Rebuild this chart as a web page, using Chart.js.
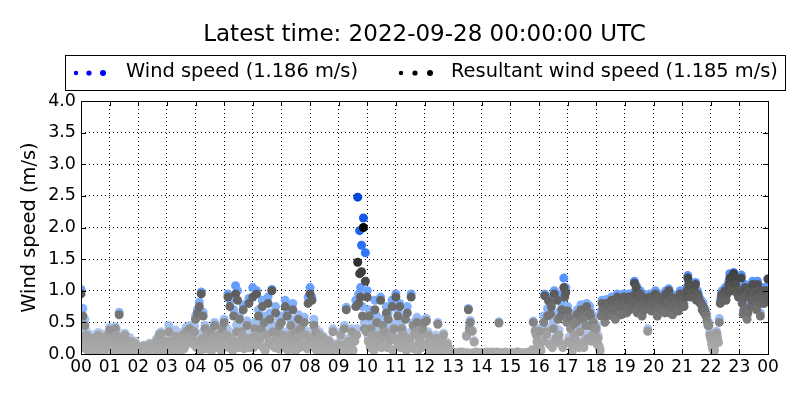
<!DOCTYPE html>
<html>
<head>
<meta charset="utf-8">
<script src="https://cdn.jsdelivr.net/npm/chart.js@4/dist/chart.umd.min.js"></script>
<style>
  html, body { margin: 0; padding: 0; background: #fff; }
  canvas { display: block; }
</style>
</head>
<body>
<canvas id="c" width="800" height="400"></canvas>
<script>
const titleText = 'Latest time: 2022-09-28 00:00:00 UTC';
const stepMinutes = 4; // main samples every 4 minutes, 00:00 -> 24:00
const offsetMinutes = 2; // in-between samples, 2 minutes after each main one

// resultant wind speed (m/s), one row per hour
const resultant = [
  0.95,0.6,0.45,0.3,0.2,0.08,0.25,0.15,0.05,0.3,0.1,0.2,0.02,0.28,0.12,      // 00
  0.38,0.25,0.1,0.4,0.15,0.62,0.05,0.2,0.3,0.08,0.12,0.02,0.18,0.06,0.1,     // 01
  0.05,0.1,0.02,0.12,0.0,0.08,0.15,0.03,0.05,0.1,0.22,0.3,0.32,0.08,0.2,     // 02
  0.1,0.35,0.2,0.05,0.15,0.02,0.1,0.25,0.3,0.08,0.35,0.2,0.4,0.3,0.15,       // 03
  0.55,0.65,0.75,0.95,0.6,0.4,0.3,0.2,0.35,0.25,0.45,0.15,0.3,0.2,0.4,       // 04
  0.5,0.3,0.9,0.75,0.2,0.6,0.95,0.85,0.55,0.35,0.7,0.15,0.45,0.8,0.25,       // 05
  0.9,0.4,0.95,0.6,0.25,0.75,0.5,0.3,0.8,0.55,1.0,0.2,0.65,0.35,0.45,        // 06
  0.5,0.3,0.75,0.6,0.2,0.45,0.7,0.35,0.25,0.55,0.4,0.15,0.5,0.3,0.8,         // 07
  0.95,0.85,0.45,0.35,0.2,0.3,0.1,0.25,0.15,0.05,0.2,0.1,0.35,0.02,0.1,      // 08
  0.15,0.3,0.05,0.4,0.7,0.2,0.1,0.35,0.25,0.75,1.45,1.27,1.3,2.0,1.15,       // 09
  0.9,0.6,0.4,0.3,0.7,0.5,0.2,0.85,0.45,0.35,0.65,0.55,0.25,0.75,0.4,        // 10
  0.9,0.6,0.75,0.4,0.3,0.55,0.65,0.2,0.9,0.45,0.35,0.5,0.15,0.3,0.4,         // 11
  0.5,0.52,0.3,0.2,0.15,0.1,0.25,0.47,0.05,0.2,0.3,0.1,0.15,0.05,0.02,       // 12
  0.02,0.0,0.01,0.0,0.0,0.02,0.0,0.28,0.7,0.5,0.36,0.19,0.02,0.0,0.01,       // 13
  0.0,0.01,0.0,0.02,0.0,0.01,0.0,0.0,0.02,0.49,0.01,0.0,0.0,0.01,0.0,        // 14
  0.0,0.0,0.01,0.0,0.02,0.0,0.0,0.01,0.0,0.0,0.0,0.01,0.5,0.36,0.19,         // 15
  0.36,0.05,0.2,0.92,0.31,0.84,0.63,0.1,0.95,0.25,0.55,0.17,0.7,1.05,0.97,   // 16
  0.68,0.57,0.15,0.47,0.24,0.63,0.1,0.7,0.55,0.2,0.75,0.45,0.6,0.3,0.41,     // 17
  0.4,0.25,0.05,0.8,0.7,0.6,0.75,0.65,0.85,0.7,0.55,0.9,0.78,0.62,0.85,      // 18
  0.8,0.65,0.9,0.75,0.85,1.12,1.05,0.7,0.95,0.6,0.8,0.72,0.36,0.9,0.68,      // 19
  0.75,0.95,0.6,0.85,0.7,0.9,0.65,0.8,1.0,0.72,0.62,0.88,0.78,0.68,0.95,     // 20
  0.85,0.75,0.95,1.2,1.0,1.07,0.9,1.1,0.95,0.85,0.8,0.75,0.68,0.52,0.45,     // 21
  0.24,0.08,0.05,0.33,0.18,0.8,0.95,0.9,0.85,1.0,1.2,1.0,1.27,1.1,0.95,      // 22
  0.9,1.2,0.63,1.05,0.55,0.95,0.75,1.1,0.85,0.7,1.0,0.6,0.9,0.8,1.0,         // 23
  1.185                                                                     // 24
];

// resultant wind speed (m/s), in-between samples
const resultantMid = [
  0.2,0.1,0.3,0.05,0.15,0.22,0.02,0.12,0.18,0.08,0.25,0.05,0.15,0.1,0.2,     // 00
  0.15,0.05,0.22,0.3,0.1,0.02,0.15,0.25,0.05,0.12,0.2,0.08,0.03,0.15,0.05,   // 01
  0.02,0.06,0.1,0.03,0.08,0.01,0.05,0.12,0.02,0.18,0.08,0.15,0.05,0.12,0.03, // 02
  0.05,0.2,0.1,0.02,0.28,0.08,0.15,0.05,0.2,0.12,0.25,0.3,0.18,0.22,0.35,    // 03
  0.1,0.2,0.05,0.25,0.15,0.08,0.2,0.3,0.05,0.15,0.1,0.25,0.12,0.05,0.2,      // 04
  0.15,0.3,0.1,0.25,0.05,0.2,0.35,0.1,0.2,0.3,0.08,0.25,0.15,0.1,0.2,        // 05
  0.1,0.3,0.15,0.25,0.4,0.1,0.05,0.3,0.2,0.15,0.35,0.1,0.25,0.08,0.2,        // 06
  0.1,0.2,0.15,0.05,0.3,0.12,0.2,0.05,0.25,0.1,0.15,0.3,0.12,0.08,0.2,       // 07
  0.25,0.15,0.1,0.05,0.12,0.02,0.08,0.15,0.05,0.1,0.02,0.06,0.12,0.04,0.08,  // 08
  0.02,0.1,0.05,0.15,0.08,0.02,0.12,0.05,0.2,0.3,0.8,0.9,0.6,0.4,0.35,       // 09
  0.2,0.1,0.3,0.05,0.2,0.15,0.3,0.1,0.25,0.35,0.1,0.2,0.3,0.05,0.25,         // 10
  0.2,0.15,0.1,0.3,0.2,0.05,0.15,0.25,0.1,0.08,0.3,0.05,0.2,0.1,0.15,        // 11
  0.15,0.1,0.05,0.2,0.12,0.02,0.08,0.1,0.05,0.02,0.08,0.04,0.01,0.05,0.0,    // 12
  0.0,0.01,0.0,0.02,0.01,0.0,0.0,0.01,0.4,0.0,0.01,0.0,0.0,0.01,0.0,         // 13
  0.01,0.0,0.0,0.01,0.0,0.02,0.0,0.01,0.0,0.0,0.01,0.0,0.02,0.0,0.0,         // 14
  0.01,0.0,0.0,0.02,0.0,0.01,0.0,0.0,0.01,0.02,0.0,0.05,0.0,0.3,0.1,         // 15
  0.1,0.2,0.5,0.35,0.6,0.15,0.75,0.4,0.2,0.85,0.3,0.6,0.1,0.9,0.5,           // 16
  0.2,0.4,0.05,0.3,0.5,0.15,0.35,0.6,0.1,0.45,0.25,0.65,0.2,0.5,0.3,         // 17
  0.15,0.1,0.6,0.7,0.5,0.8,0.65,0.75,0.6,0.85,0.7,0.8,0.65,0.75,0.9,         // 18
  0.75,0.85,0.7,0.9,0.8,0.95,0.65,0.85,0.75,0.9,0.7,0.8,0.85,0.75,0.8,       // 19
  0.8,0.7,0.9,0.75,0.85,0.7,0.95,0.8,0.65,0.9,0.75,0.85,0.7,0.9,0.8,         // 20
  0.8,0.9,1.0,1.1,0.9,0.95,1.0,0.85,0.9,0.8,0.7,0.65,0.6,0.45,0.3,           // 21
  0.15,0.05,0.2,0.25,0.5,0.9,0.85,1.0,0.95,1.1,1.05,1.15,1.2,1.0,0.9,        // 22
  1.0,0.8,0.7,0.9,0.65,1.0,0.85,0.95,0.75,1.1,0.9,0.8,1.0,0.85,0.9           // 23
];

// wind speed (m/s), same timestamps as resultant
const windSpeed = [
  1.02,0.72,0.55,0.35,0.24,0.1,0.3,0.18,0.07,0.34,0.12,0.23,0.04,0.31,0.15,
  0.42,0.28,0.12,0.43,0.18,0.66,0.07,0.23,0.33,0.1,0.14,0.04,0.2,0.08,0.12,
  0.07,0.12,0.04,0.14,0.02,0.1,0.17,0.05,0.07,0.12,0.25,0.33,0.35,0.1,0.23,
  0.13,0.45,0.24,0.08,0.18,0.04,0.13,0.3,0.34,0.1,0.42,0.25,0.45,0.38,0.2,
  0.6,0.7,0.82,0.98,0.66,0.45,0.36,0.25,0.4,0.3,0.5,0.2,0.35,0.26,0.45,
  0.55,0.35,0.95,0.85,0.25,0.7,1.08,1.0,0.6,0.42,0.78,0.2,0.52,0.88,0.3,
  1.05,0.5,1.0,0.7,0.3,0.85,0.6,0.35,0.9,0.65,1.02,0.25,0.75,0.42,0.55,
  0.6,0.35,0.85,0.7,0.25,0.55,0.8,0.42,0.3,0.62,0.48,0.2,0.58,0.36,0.9,
  1.05,0.9,0.55,0.4,0.25,0.35,0.12,0.28,0.18,0.07,0.22,0.12,0.4,0.04,0.12,
  0.18,0.35,0.07,0.45,0.74,0.25,0.12,0.4,0.3,0.85,2.48,1.95,1.72,2.15,1.6,
  1.0,0.7,0.5,0.35,0.85,0.6,0.25,0.9,0.55,0.42,0.75,0.65,0.3,0.85,0.48,
  0.95,0.7,0.8,0.5,0.35,0.62,0.75,0.25,0.95,0.5,0.42,0.58,0.2,0.35,0.48,
  0.55,0.56,0.35,0.24,0.18,0.12,0.3,0.5,0.07,0.23,0.33,0.12,0.18,0.07,0.04,
  0.03,0.01,0.02,0.01,0.01,0.03,0.01,0.3,0.72,0.53,0.38,0.21,0.03,0.01,0.02,
  0.01,0.02,0.01,0.03,0.01,0.02,0.01,0.01,0.03,0.51,0.02,0.01,0.01,0.02,0.01,
  0.01,0.01,0.02,0.01,0.03,0.01,0.01,0.02,0.01,0.01,0.01,0.02,0.52,0.38,0.21,
  0.4,0.07,0.24,0.95,0.36,0.9,0.7,0.12,1.0,0.4,0.65,0.2,0.8,1.2,1.05,
  0.75,0.65,0.18,0.55,0.3,0.7,0.12,0.78,0.62,0.25,0.8,0.52,0.68,0.36,0.48,
  0.45,0.3,0.07,0.85,0.75,0.66,0.8,0.7,0.9,0.76,0.6,0.95,0.82,0.68,0.9,
  0.85,0.7,0.95,0.8,0.9,1.15,1.08,0.75,1.0,0.66,0.85,0.76,0.4,0.95,0.72,
  0.8,1.0,0.65,0.9,0.75,0.95,0.7,0.85,1.03,0.76,0.66,0.92,0.82,0.72,1.0,
  0.9,0.8,1.0,1.24,1.05,1.1,0.95,1.13,1.0,0.9,0.85,0.8,0.72,0.58,0.5,
  0.28,0.1,0.07,0.36,0.2,0.85,1.0,0.95,0.9,1.05,1.27,1.05,1.29,1.15,1.0,
  0.95,1.25,0.68,1.1,0.6,1.0,0.8,1.15,0.9,0.75,1.05,0.65,0.95,0.85,1.05,
  1.186
];

// wind speed (m/s), in-between samples
const windSpeedMid = [
  0.26,0.14,0.38,0.08,0.2,0.3,0.04,0.16,0.24,0.1,0.32,0.07,0.2,0.14,0.26,
  0.2,0.07,0.3,0.4,0.14,0.04,0.2,0.32,0.07,0.16,0.26,0.1,0.05,0.2,0.07,
  0.04,0.08,0.13,0.05,0.1,0.03,0.07,0.15,0.04,0.24,0.1,0.2,0.07,0.16,0.05,
  0.07,0.28,0.14,0.04,0.38,0.1,0.2,0.07,0.28,0.16,0.34,0.42,0.25,0.3,0.44,
  0.13,0.26,0.07,0.34,0.2,0.1,0.26,0.4,0.07,0.2,0.13,0.34,0.16,0.07,0.26,
  0.2,0.4,0.13,0.34,0.07,0.26,0.46,0.13,0.26,0.4,0.1,0.34,0.2,0.13,0.26,
  0.13,0.4,0.2,0.34,0.52,0.13,0.07,0.4,0.26,0.2,0.46,0.13,0.34,0.1,0.26,
  0.13,0.26,0.2,0.07,0.4,0.16,0.26,0.07,0.34,0.13,0.2,0.4,0.16,0.1,0.26,
  0.34,0.2,0.13,0.07,0.16,0.03,0.1,0.2,0.07,0.13,0.03,0.08,0.16,0.05,0.1,
  0.03,0.13,0.07,0.2,0.1,0.03,0.16,0.07,0.26,0.4,0.95,1.05,0.75,0.5,0.45,
  0.26,0.13,0.4,0.07,0.26,0.2,0.4,0.13,0.34,0.46,0.13,0.26,0.4,0.07,0.34,
  0.26,0.2,0.13,0.4,0.26,0.07,0.2,0.34,0.13,0.1,0.4,0.07,0.26,0.13,0.2,
  0.2,0.13,0.07,0.26,0.16,0.03,0.1,0.13,0.07,0.03,0.1,0.05,0.02,0.07,0.01,
  0.01,0.02,0.01,0.03,0.02,0.01,0.01,0.02,0.45,0.01,0.02,0.01,0.01,0.02,0.01,
  0.02,0.01,0.01,0.02,0.01,0.03,0.01,0.02,0.01,0.01,0.02,0.01,0.03,0.01,0.01,
  0.02,0.01,0.01,0.03,0.01,0.02,0.01,0.01,0.02,0.03,0.01,0.07,0.01,0.36,0.13,
  0.13,0.26,0.6,0.42,0.72,0.2,0.88,0.5,0.26,0.95,0.38,0.7,0.13,1.0,0.6,
  0.26,0.5,0.07,0.38,0.6,0.2,0.42,0.7,0.13,0.55,0.32,0.76,0.26,0.6,0.38,
  0.2,0.13,0.68,0.76,0.56,0.86,0.7,0.8,0.66,0.9,0.75,0.85,0.7,0.8,0.95,
  0.8,0.9,0.75,0.95,0.85,1.0,0.7,0.9,0.8,0.95,0.75,0.85,0.9,0.8,0.85,
  0.85,0.75,0.95,0.8,0.9,0.75,1.0,0.85,0.7,0.95,0.8,0.9,0.75,0.95,0.85,
  0.85,0.95,1.05,1.15,0.95,1.0,1.05,0.9,0.95,0.85,0.75,0.7,0.65,0.5,0.35,
  0.2,0.07,0.25,0.3,0.56,0.95,0.9,1.05,1.0,1.15,1.1,1.2,1.24,1.05,0.95,
  1.05,0.85,0.75,0.95,0.7,1.05,0.9,1.0,0.8,1.15,0.95,0.85,1.05,0.9,0.95
];

const hourTicks = [0,1,2,3,4,5,6,7,8,9,10,11,12,13,14,15,16,17,18,19,20,21,22,23,24];
const speedTicks = [0,0.5,1,1.5,2,2.5,3,3.5,4];

const FONT = "'DejaVu Sans', sans-serif";

// merge main and in-between samples into time order
function toPoints(main, mid) {
  const pts = [];
  main.forEach((v, i) => {
    pts.push({ x: i * stepMinutes / 60, y: v });
    if (i < mid.length) pts.push({ x: (i * stepMinutes + offsetMinutes) / 60, y: mid[i] });
  });
  return pts;
}

function lerpStops(stops, v) {
  if (v <= stops[0][0]) return stops[0][1];
  for (let i = 1; i < stops.length; i++) {
    if (v <= stops[i][0]) {
      const a = stops[i - 1], b = stops[i];
      const t = (v - a[0]) / (b[0] - a[0]);
      return a[1].map((c, k) => Math.round(c + (b[1][k] - c) * t));
    }
  }
  return stops[stops.length - 1][1];
}

// darker the stronger the wind
const grayStops = [[0, [172,172,172]], [0.3, [160,160,160]], [0.6, [118,118,118]], [1.0, [88,88,88]], [2.0, [0,0,0]]];
const blueStops = [[0, [172,172,172]], [0.3, [180,200,235]], [0.8, [125,175,255]], [1.5, [55,125,255]], [2.5, [0,70,215]]];

function colorFor(stops) {
  return (ctx) => {
    const v = ctx.raw ? ctx.raw.y : 0;
    const c = lerpStops(stops, v);
    return 'rgb(' + c.join(',') + ')';
  };
}

const pad2 = (n) => String(n % 24).padStart(2, '0');

const frame = {
  id: 'frame',
  afterDraw(chart) {
    const { ctx, chartArea: a, scales } = chart;
    ctx.save();

    // title
    ctx.fillStyle = '#000';
    ctx.font = '23px ' + FONT;
    ctx.textAlign = 'center';
    ctx.textBaseline = 'middle';
    ctx.fillText(titleText, (a.left + a.right) / 2, 35);

    // legend box
    ctx.lineWidth = 1;
    ctx.strokeStyle = '#000';
    ctx.strokeRect(65.5, 55.5, 720, 35);
    const lastW = windSpeed[windSpeed.length - 1].toFixed(3);
    const lastR = resultant[resultant.length - 1].toFixed(3);
    const items = [
      { dots: [76, 89, 103], color: '#0000ff', text: 'Wind speed (' + lastW + ' m/s)', tx: 126 },
      { dots: [401, 415, 430], color: '#000000', text: 'Resultant wind speed (' + lastR + ' m/s)', tx: 451 }
    ];
    ctx.font = '19.4px ' + FONT;
    ctx.textAlign = 'left';
    items.forEach(it => {
      ctx.fillStyle = it.color;
      const radii = [2.2, 2.6, 3.0];
      it.dots.forEach((x, k) => {
        ctx.beginPath();
        ctx.arc(x, 73, radii[k], 0, Math.PI * 2);
        ctx.fill();
      });
      ctx.fillStyle = '#000';
      ctx.fillText(it.text, it.tx, 72);
    });

    // y axis label
    ctx.save();
    ctx.translate(30, (a.top + a.bottom) / 2);
    ctx.rotate(-Math.PI / 2);
    ctx.textAlign = 'center';
    ctx.textBaseline = 'middle';
    ctx.font = '19.4px ' + FONT;
    ctx.fillText('Wind speed (m/s)', 0, 0);
    ctx.restore();

    // inward ticks on all four sides
    ctx.beginPath();
    hourTicks.forEach(h => {
      const x = Math.round(scales.x.getPixelForValue(h)) + 0.5;
      ctx.moveTo(x, a.bottom); ctx.lineTo(x, a.bottom - 5);
      ctx.moveTo(x, a.top); ctx.lineTo(x, a.top + 5);
    });
    speedTicks.forEach(s => {
      const y = Math.round(scales.y.getPixelForValue(s)) + 0.5;
      ctx.moveTo(a.left, y); ctx.lineTo(a.left + 5, y);
      ctx.moveTo(a.right, y); ctx.lineTo(a.right - 5, y);
    });
    ctx.stroke();

    // axes frame
    ctx.strokeRect(Math.round(a.left) + 0.5, Math.round(a.top) + 0.5,
      Math.round(a.right - a.left), Math.round(a.bottom - a.top));
    ctx.restore();
  }
};

new Chart(document.getElementById('c'), {
  type: 'scatter',
  data: {
    datasets: [
      {
        label: 'Wind speed',
        data: toPoints(windSpeed, windSpeedMid),
        backgroundColor: colorFor(blueStops),
        pointRadius: 4.5,
        pointBorderWidth: 0,
        borderWidth: 0,
        order: 2
      },
      {
        label: 'Resultant wind speed',
        data: toPoints(resultant, resultantMid),
        backgroundColor: colorFor(grayStops),
        pointRadius: 4.5,
        pointBorderWidth: 0,
        borderWidth: 0,
        order: 1
      }
    ]
  },
  options: {
    responsive: false,
    animation: false,
    layout: { padding: { top: 101, right: 32, left: 0, bottom: 0 } },
    plugins: {
      legend: { display: false },
      title: { display: false },
      tooltip: { enabled: false }
    },
    scales: {
      x: {
        type: 'linear',
        min: 0,
        max: 24,
        afterBuildTicks: (scale) => { scale.ticks = hourTicks.map(v => ({ value: v })); },
        afterFit: (scale) => { scale.height = 46; },
        ticks: {
          color: '#000',
          font: { family: FONT, size: 17 },
          padding: 3,
          maxRotation: 0,
          autoSkip: false,
          callback: (v) => pad2(v)
        },
        grid: { color: '#000', lineWidth: 1, drawTicks: false },
        border: { display: false, dash: [1, 3] }
      },
      y: {
        min: 0,
        max: 4,
        afterBuildTicks: (scale) => { scale.ticks = speedTicks.map(v => ({ value: v })); },
        afterFit: (scale) => { scale.width = 81; },
        ticks: {
          color: '#000',
          font: { family: FONT, size: 17.5 },
          padding: 5,
          callback: (v) => v.toFixed(1)
        },
        grid: { color: '#000', lineWidth: 1, drawTicks: false },
        border: { display: false, dash: [1, 3] }
      }
    }
  },
  plugins: [frame]
});
</script>
</body>
</html>
